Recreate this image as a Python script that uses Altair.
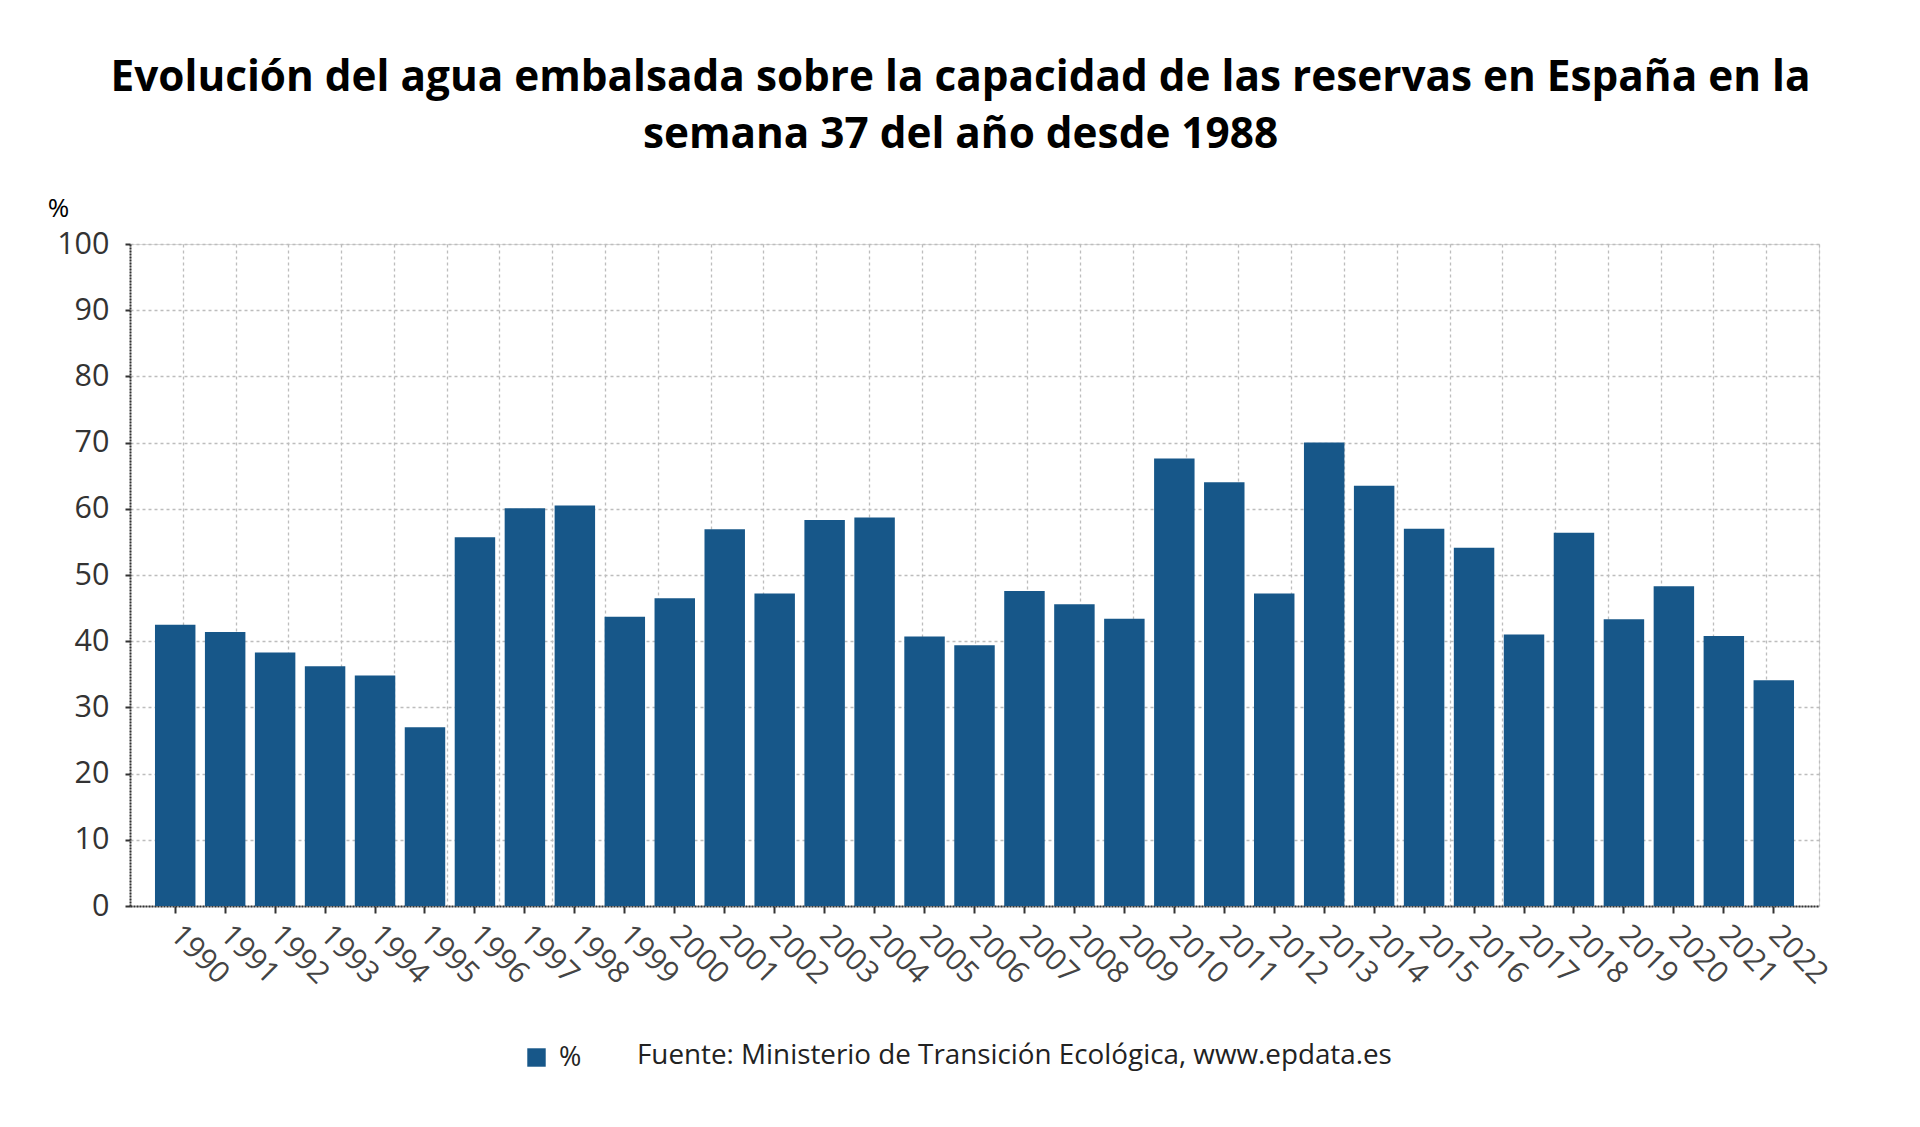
import altair as alt
import pandas as pd

years = [str(y) for y in range(1990, 2023)]
values = [42.5, 41.4, 38.3, 36.2, 34.8, 27.0, 55.7, 60.1, 60.5, 43.7,
          46.5, 56.9, 47.2, 58.3, 58.7, 40.7, 39.4, 47.6, 45.6, 43.4,
          67.6, 64.0, 47.2, 70.0, 63.5, 57.0, 54.1, 41.0, 56.4, 43.3,
          48.3, 40.8, 34.1]
series_name = "%"
title_lines = ["Evolución del agua embalsada sobre la capacidad de las reservas en España en la",
               "semana 37 del año desde 1988"]
source_text = "Fuente: Ministerio de Transición Ecológica, www.epdata.es"
grid_cols = list(range(33))

FONT = "Open Sans"
BAR = "#175789"

df = pd.DataFrame({"year": years, "value": values, "serie": [series_name] * len(years)})
grid_df = pd.DataFrame({"g": grid_cols})
src_df = pd.DataFrame({"t": [source_text]})

W, H = 1689, 662

bars = alt.Chart(df).mark_bar(color=BAR).encode(
    x=alt.X("year:N", sort=years,
            scale=alt.Scale(paddingInner=0.19, paddingOuter=0.5),
            axis=alt.Axis(title=None, labelAngle=45, labelAlign="left", labelBaseline="middle",
                          labelFont=FONT, labelFontSize=30, labelColor="#444",
                          labelPadding=17, tickSize=7, tickColor="#333", tickWidth=2,
                          domainColor="#333", domainWidth=2, domainDash=[2, 1],
                          grid=False, labelOverlap=False)),
    y=alt.Y("value:Q", scale=alt.Scale(domain=[0, 100], nice=False),
            axis=alt.Axis(values=list(range(0, 101, 10)), title="%", titleAngle=0,
                          titleX=-72, titleY=-36, titleAlign="center", titleBaseline="middle",
                          titleFont=FONT, titleFontSize=26, titleFontWeight="normal",
                          titleColor="#000",
                          labelFont=FONT, labelFontSize=30.5, labelColor="#333",
                          labelPadding=16, tickSize=5, tickColor="#333", tickWidth=2,
                          domainColor="#333", domainWidth=2, domainDash=[2, 1],
                          grid=True, gridColor="#bdbdbd", gridDash=[3, 3], gridWidth=1.3)),
    fill=alt.Fill("serie:N", scale=alt.Scale(range=[BAR]),
                  legend=alt.Legend(title=None, orient="none", legendX=393, legendY=800,
                                    symbolType="square", symbolSize=340,
                                    symbolStrokeWidth=0, labelFont=FONT,
                                    labelFontSize=27, labelColor="#222", labelOffset=9,
                                    padding=0)),
)

vgrid = alt.Chart(grid_df).mark_point(opacity=0).encode(
    x=alt.X("g:Q", scale=alt.Scale(domain=[0, 32], nice=False, zero=False),
            axis=alt.Axis(values=grid_cols, grid=True, gridColor="#bdbdbd",
                          gridDash=[3, 3], gridWidth=1.3, labels=False, ticks=False,
                          domain=False, title=None, orient="top")),
)

source = alt.Chart(src_df).mark_text(align="left", baseline="middle", font=FONT,
                                     fontSize=27.8, color="#222").encode(
    text="t:N", x=alt.value(507), y=alt.value(812))

chart = alt.layer(vgrid, bars, source).resolve_scale(x="independent").resolve_axis(
    x="independent"
).properties(
    width=W, height=H,
    autosize=alt.AutoSizeParams(type="none"),
    padding={"left": 122, "top": 236, "right": 85, "bottom": 205},
    title=alt.TitleParams(text=title_lines, font=FONT, fontSize=42.3, fontWeight="bold",
                          color="#000", anchor="middle", lineHeight=57, offset=38, dx=-14),
).configure_view(stroke=None).configure(background="white")

chart.save("out.html", embed_options={"renderer": "svg", "actions": False})
